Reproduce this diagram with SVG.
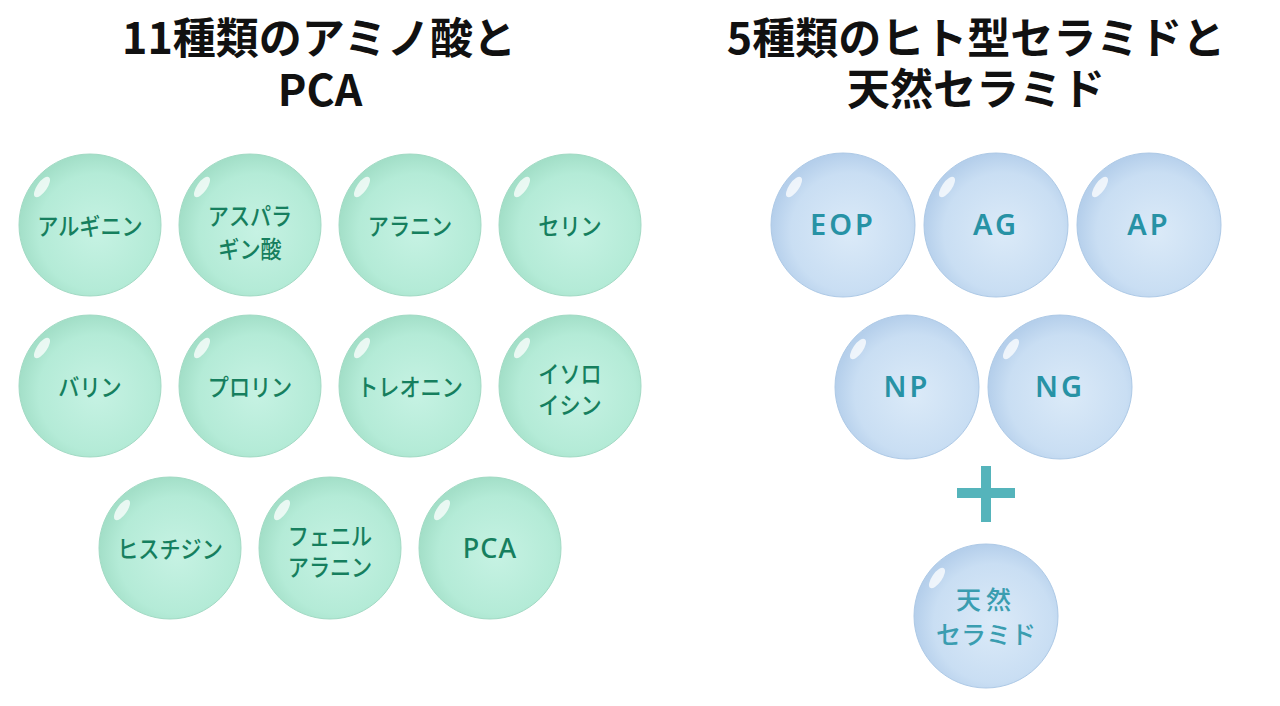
<svg xmlns="http://www.w3.org/2000/svg" width="1280" height="706" viewBox="0 0 1280 706">
<defs>
<radialGradient id="gG" cx="55%" cy="55%" r="55%">
<stop offset="0" stop-color="#c6f2e3"/>
<stop offset="0.75" stop-color="#b4ebd7"/>
<stop offset="1" stop-color="#a3dfc8"/>
</radialGradient>
<radialGradient id="gB" cx="55%" cy="55%" r="55%">
<stop offset="0" stop-color="#dbeaf8"/>
<stop offset="0.75" stop-color="#c9def3"/>
<stop offset="1" stop-color="#b5cfeb"/>
</radialGradient>
<g id="bubG">
<circle r="71" fill="url(#gG)" stroke="#a2dac4" stroke-width="1"/>
<ellipse cx="-48" cy="-38" rx="5" ry="12" transform="rotate(35 -48 -38)" fill="#ffffff" opacity="0.75"/>
</g>
<g id="bubB">
<circle r="72" fill="url(#gB)" stroke="#adc9e6" stroke-width="1"/>
<ellipse cx="-49" cy="-38" rx="5" ry="12" transform="rotate(35 -49 -38)" fill="#ffffff" opacity="0.75"/>
</g>
</defs>
<style>
.title{font-family:"Noto Sans CJK JP","Noto Sans",sans-serif;font-weight:700;font-size:43px;fill:#111111;text-anchor:middle}
.gl{font-family:"Noto Sans CJK JP",sans-serif;font-weight:500;font-size:24px;fill:#167f5e;text-anchor:middle}
.bl{font-family:"Noto Sans","Noto Sans CJK JP",sans-serif;font-weight:600;font-size:29px;fill:#2792a5;text-anchor:middle;letter-spacing:3px}
.nl{font-family:"Noto Sans CJK JP",sans-serif;font-weight:500;font-size:25px;fill:#3a9db0;text-anchor:middle}
</style>
<rect width="1280" height="706" fill="#ffffff"/>
<g id="titles">
<text class="title" x="319" y="54">11種類のアミノ酸と</text>
<text class="title" x="320" y="106">PCA</text>
<text class="title" x="976" y="54">5種類のヒト型セラミドと</text>
<text class="title" x="976" y="105">天然セラミド</text>
</g>
<g id="n-arginine" transform="translate(90,225)"><use href="#bubG"/><text class="gl" transform="scale(0.88,1)" y="10">アルギニン</text></g>
<g id="n-asparagine" transform="translate(250,225)"><use href="#bubG"/><text class="gl" transform="scale(0.88,1)" y="0">アスパラ</text><text class="gl" transform="scale(0.88,1)" y="33">ギン酸</text></g>
<g id="n-alanine" transform="translate(410,225)"><use href="#bubG"/><text class="gl" transform="scale(0.88,1)" y="10">アラニン</text></g>
<g id="n-serine" transform="translate(570,225)"><use href="#bubG"/><text class="gl" transform="scale(0.88,1)" y="10">セリン</text></g>
<g id="n-valine" transform="translate(90,386)"><use href="#bubG"/><text class="gl" transform="scale(0.88,1)" y="10">バリン</text></g>
<g id="n-proline" transform="translate(250,386)"><use href="#bubG"/><text class="gl" transform="scale(0.88,1)" y="10">プロリン</text></g>
<g id="n-threonine" transform="translate(410,386)"><use href="#bubG"/><text class="gl" transform="scale(0.88,1)" y="10">トレオニン</text></g>
<g id="n-isoleucine" transform="translate(570,386)"><use href="#bubG"/><text class="gl" transform="scale(0.88,1)" y="-3">イソロ</text><text class="gl" transform="scale(0.88,1)" y="28">イシン</text></g>
<g id="n-histidine" transform="translate(170,548)"><use href="#bubG"/><text class="gl" transform="scale(0.88,1)" y="10">ヒスチジン</text></g>
<g id="n-phenylalanine" transform="translate(330,548)"><use href="#bubG"/><text class="gl" transform="scale(0.88,1)" y="-3">フェニル</text><text class="gl" transform="scale(0.88,1)" y="28">アラニン</text></g>
<g id="n-pca" transform="translate(490,548)"><use href="#bubG"/><text class="gl" y="10" style="font-family:'Noto Sans',sans-serif;font-size:27px;letter-spacing:1px">PCA</text></g>
<g id="n-eop" transform="translate(843,225)"><use href="#bubB"/><text class="bl" y="10">EOP</text></g>
<g id="n-ag" transform="translate(996,225)"><use href="#bubB"/><text class="bl" y="10">AG</text></g>
<g id="n-ap" transform="translate(1149,225)"><use href="#bubB"/><text class="bl" y="10">AP</text></g>
<g id="n-np" transform="translate(907,387)"><use href="#bubB"/><text class="bl" y="10">NP</text></g>
<g id="n-ng" transform="translate(1060,387)"><use href="#bubB"/><text class="bl" y="10">NG</text></g>
<g id="plus">
<rect x="957" y="488" width="58" height="10" fill="#55b4bb"/>
<rect x="981" y="466" width="10" height="56" fill="#55b4bb"/>
</g>
<g id="n-natural" transform="translate(986,616)"><use href="#bubB"/><text class="nl" y="-7" letter-spacing="5">天然</text><text class="nl" y="28">セラミド</text></g>
<g id="connectors"/>
</svg>
